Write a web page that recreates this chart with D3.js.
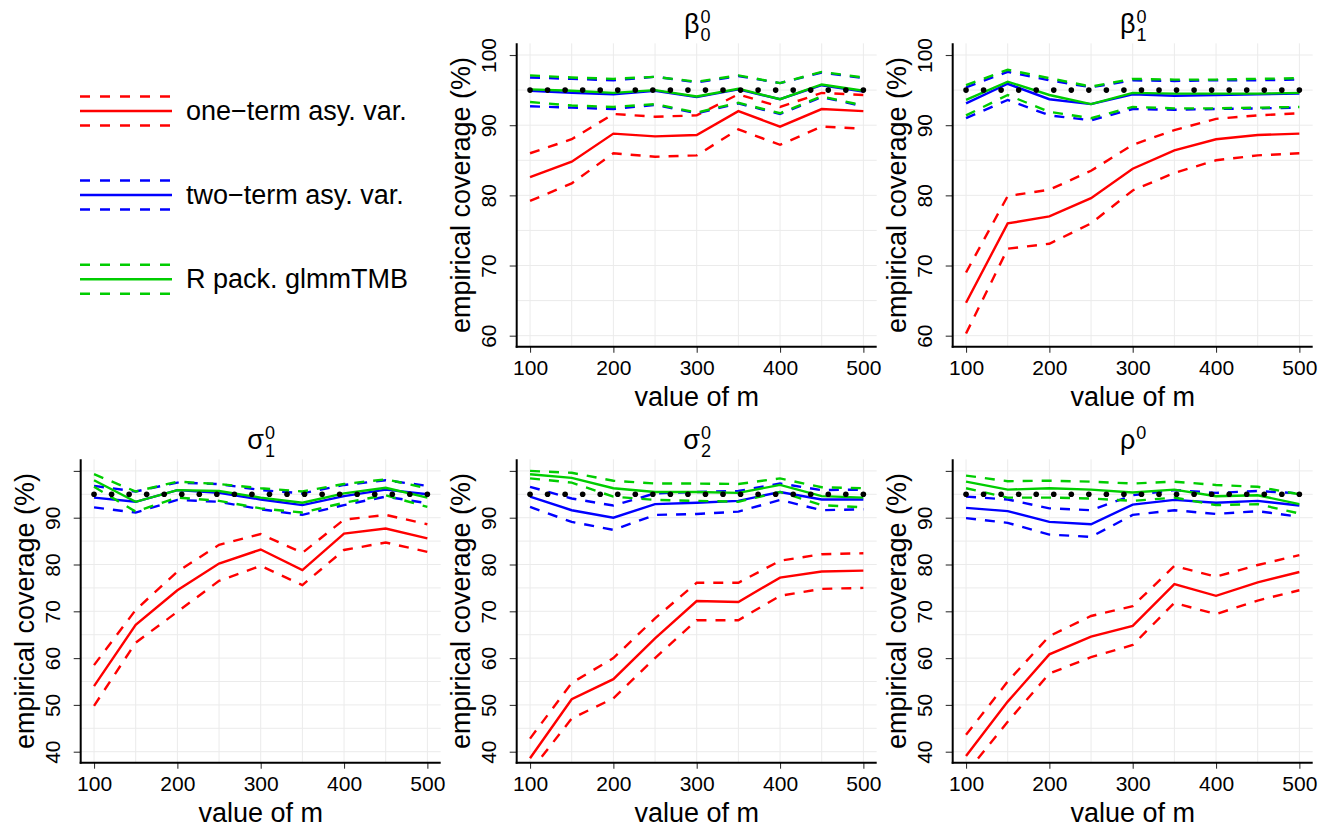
<!DOCTYPE html>
<html>
<head>
<meta charset="utf-8">
<title>empirical coverage</title>
<script src="https://d3js.org/d3.v7.min.js"></script>
<style>
  body { margin: 0; background: #fff; }
  text { font-family: "Liberation Sans", Arial, sans-serif; fill: #000; }
</style>
</head>
<body>
<svg width="1331" height="830"></svg>
<script>
// values of m on the x axis
const mValues = [100, 150, 200, 250, 300, 350, 400, 450, 500];
// nominal 95% reference (dotted line)
const refLevel = 95;
const refM = [100, 121.05, 142.11, 163.16, 184.21, 205.26, 226.32, 247.37, 268.42, 289.47,
              310.53, 331.58, 352.63, 373.68, 394.74, 415.79, 436.84, 457.89, 478.95, 500];

// beta_0^0
const b0_one    = [82.6, 84.8, 88.8, 88.4, 88.6, 92.0, 89.8, 92.3, 92.0];
const b0_one_up = [86.0, 88.0, 91.6, 91.2, 91.4, 94.4, 92.6, 94.6, 94.3];
const b0_one_lo = [79.2, 81.7, 86.0, 85.5, 85.7, 89.4, 87.2, 89.8, 89.5];
const b0_two    = [94.9, 94.6, 94.4, 94.9, 94.0, 95.1, 93.7, 95.7, 94.8];
const b0_two_up = [96.8, 96.6, 96.4, 96.9, 96.1, 97.0, 96.0, 97.5, 96.7];
const b0_two_lo = [92.7, 92.5, 92.3, 92.9, 91.7, 93.1, 91.6, 94.0, 92.7];
const b0_glm    = [95.1, 94.9, 94.6, 95.0, 94.1, 95.2, 93.7, 95.8, 94.9];
const b0_glm_up = [97.1, 96.8, 96.6, 96.9, 96.2, 97.1, 96.0, 97.6, 96.8];
const b0_glm_lo = [93.3, 92.8, 92.6, 93.0, 91.8, 93.2, 91.7, 94.1, 92.8];

// beta_1^0
const b1_one    = [64.7, 76.0, 77.0, 79.6, 83.8, 86.4, 88.0, 88.6, 88.8];
const b1_one_up = [69.0, 79.9, 80.8, 83.5, 87.2, 89.3, 90.9, 91.4, 91.7];
const b1_one_lo = [60.3, 72.4, 73.1, 76.0, 80.7, 83.2, 85.0, 85.7, 86.0];
const b1_two    = [93.1, 95.9, 93.7, 93.0, 94.4, 94.2, 94.3, 94.4, 94.5];
const b1_two_up = [95.4, 97.6, 96.4, 95.4, 96.4, 96.3, 96.4, 96.4, 96.5];
const b1_two_lo = [91.0, 93.6, 91.4, 90.7, 92.3, 92.2, 92.3, 92.4, 92.5];
const b1_glm    = [93.6, 96.2, 94.3, 93.0, 94.6, 94.5, 94.5, 94.5, 94.6];
const b1_glm_up = [95.7, 97.9, 96.7, 95.5, 96.6, 96.5, 96.5, 96.6, 96.7];
const b1_glm_lo = [91.4, 94.3, 91.9, 91.0, 92.6, 92.4, 92.4, 92.5, 92.6];

// sigma_1^0
const s1_one    = [54.0, 67.1, 74.5, 80.2, 83.2, 78.8, 86.6, 87.7, 85.6];
const s1_one_up = [58.5, 70.3, 78.5, 84.2, 86.5, 82.5, 89.6, 90.6, 88.6];
const s1_one_lo = [49.8, 63.3, 69.9, 76.5, 79.7, 75.6, 83.1, 84.7, 82.7];
const s1_two    = [94.3, 93.4, 95.9, 95.3, 93.9, 92.7, 94.6, 96.0, 95.0];
const s1_two_up = [96.8, 95.6, 97.5, 97.2, 95.9, 95.2, 97.0, 98.0, 96.8];
const s1_two_lo = [92.2, 91.1, 93.8, 93.4, 91.8, 90.6, 92.7, 94.5, 93.1];
const s1_glm    = [98.0, 93.4, 95.9, 95.7, 94.3, 93.2, 95.2, 96.4, 94.3];
const s1_glm_up = [99.3, 95.6, 97.7, 97.2, 96.3, 95.6, 97.2, 98.2, 96.3];
const s1_glm_lo = [96.6, 91.3, 94.3, 93.6, 92.0, 91.1, 93.2, 94.8, 92.3];

// sigma_2^0
const s2_one    = [38.6, 51.2, 55.5, 64.2, 72.2, 72.0, 77.2, 78.5, 78.7];
const s2_one_up = [42.8, 54.7, 60.0, 68.5, 76.1, 76.1, 80.8, 82.2, 82.4];
const s2_one_lo = [35.7, 47.1, 51.4, 60.0, 68.1, 68.1, 73.3, 74.8, 75.0];
const s2_two    = [94.5, 91.6, 90.0, 92.9, 93.2, 93.6, 95.5, 93.9, 93.9];
const s2_two_up = [96.6, 94.1, 92.6, 95.2, 95.5, 95.7, 97.3, 95.9, 96.0];
const s2_two_lo = [92.3, 89.1, 87.4, 90.6, 90.8, 91.3, 93.8, 91.6, 91.8];
const s2_glm    = [99.3, 98.5, 96.3, 95.5, 95.5, 95.3, 97.0, 94.6, 94.3];
const s2_glm_up = [100.0, 99.6, 97.9, 97.3, 97.3, 97.2, 98.4, 96.5, 96.3];
const s2_glm_lo = [98.4, 97.5, 94.5, 93.8, 93.6, 93.4, 95.5, 92.7, 92.2];

// rho^0
const r_one    = [39.1, 50.7, 60.8, 64.6, 66.9, 75.8, 73.3, 76.2, 78.4];
const r_one_up = [43.6, 55.0, 64.7, 69.0, 71.1, 79.7, 77.4, 79.9, 82.0];
const r_one_lo = [35.4, 46.4, 56.7, 60.2, 62.8, 71.8, 69.4, 72.3, 74.5];
const r_two    = [92.1, 91.4, 89.1, 88.6, 92.8, 93.8, 93.2, 93.6, 92.6];
const r_two_up = [94.5, 93.9, 92.0, 91.6, 94.8, 95.9, 95.3, 95.7, 95.2];
const r_two_lo = [89.9, 88.9, 86.4, 85.9, 90.6, 91.6, 90.8, 91.4, 90.2];
const r_glm    = [97.7, 96.0, 96.3, 96.0, 95.4, 96.0, 94.6, 94.8, 92.9];
const r_glm_up = [99.0, 97.8, 97.9, 97.7, 97.3, 97.7, 97.0, 96.6, 95.0];
const r_glm_lo = [96.3, 94.3, 94.3, 94.1, 93.6, 94.3, 92.7, 92.9, 90.9];

const methodNames = ["one\u2212term asy. var.", "two\u2212term asy. var.", "R pack. glmmTMB"];
const methodColors = ["#ff0000", "#0000ff", "#00cd00"];

const xTicks = [100, 200, 300, 400, 500];
const xGrid = [100, 150, 200, 250, 300, 350, 400, 450, 500];
const yTicksTop = [60, 70, 80, 90, 100];
const yLabelsTop = [60, 70, 80, 90, 100];
const yGridTop = [60, 65, 70, 75, 80, 85, 90, 95, 100];
const yTicksBottom = [40, 50, 60, 70, 80, 90, 100];
const yLabelsBottom = [40, 50, 60, 70, 80, 90];
const yGridBottom = [40, 45, 50, 55, 60, 65, 70, 75, 80, 85, 90, 95, 100];

// layout
const colX = [80.7, 516.7, 952.7];
const rowY = [43.3, 459.3];
const pw = 360, ph = 303.4;

const panels = [
  { base: "\u03b2", sub: "0", sup: "0", col: 1, row: 0, series: [[b0_one, b0_one_up, b0_one_lo], [b0_two, b0_two_up, b0_two_lo], [b0_glm, b0_glm_up, b0_glm_lo]] },
  { base: "\u03b2", sub: "1", sup: "0", col: 2, row: 0, series: [[b1_one, b1_one_up, b1_one_lo], [b1_two, b1_two_up, b1_two_lo], [b1_glm, b1_glm_up, b1_glm_lo]] },
  { base: "\u03c3", sub: "1", sup: "0", col: 0, row: 1, series: [[s1_one, s1_one_up, s1_one_lo], [s1_two, s1_two_up, s1_two_lo], [s1_glm, s1_glm_up, s1_glm_lo]] },
  { base: "\u03c3", sub: "2", sup: "0", col: 1, row: 1, series: [[s2_one, s2_one_up, s2_one_lo], [s2_two, s2_two_up, s2_two_lo], [s2_glm, s2_glm_up, s2_glm_lo]] },
  { base: "\u03c1", sub: "",  sup: "0", col: 2, row: 1, series: [[r_one, r_one_up, r_one_lo], [r_two, r_two_up, r_two_lo], [r_glm, r_glm_up, r_glm_lo]] }
];

const svg = d3.select("svg");
const defs = svg.append("defs");

const gridColor = "#ebebeb";
const dash = "10,9";
const lw = 2.4;

panels.forEach((p, i) => {
  const x0 = colX[p.col], y0 = rowY[p.row];
  const g = svg.append("g").attr("transform", `translate(${x0},${y0})`);

  const x = d3.scaleLinear().domain([84, 516]).range([0, pw]);
  const y = p.row === 0
    ? d3.scaleLinear().domain([58.43, 101.67]).range([ph, 0])
    : d3.scaleLinear().domain([37.65, 102.48]).range([ph, 0]);
  const yGrid = p.row === 0 ? yGridTop : yGridBottom;
  const yTicks = p.row === 0 ? yTicksTop : yTicksBottom;
  const yLabels = p.row === 0 ? yLabelsTop : yLabelsBottom;

  defs.append("clipPath").attr("id", "clip" + i)
    .append("rect").attr("width", pw).attr("height", ph);

  // grid
  g.selectAll(".gx").data(xGrid).join("line")
    .attr("x1", d => x(d)).attr("x2", d => x(d))
    .attr("y1", 0).attr("y2", ph)
    .attr("stroke", gridColor).attr("stroke-width", 1);
  g.selectAll(".gy").data(yGrid).join("line")
    .attr("x1", 0).attr("x2", pw)
    .attr("y1", d => y(d)).attr("y2", d => y(d))
    .attr("stroke", gridColor).attr("stroke-width", 1);

  const plot = g.append("g").attr("clip-path", `url(#clip${i})`);
  const line = d3.line().x((d, k) => x(mValues[k])).y(d => y(d));

  p.series.forEach((s, j) => {
    const col = methodColors[j];
    plot.append("path").datum(s[1]).attr("d", line)
      .attr("fill", "none").attr("stroke", col).attr("stroke-width", lw)
      .attr("stroke-dasharray", dash);
    plot.append("path").datum(s[2]).attr("d", line)
      .attr("fill", "none").attr("stroke", col).attr("stroke-width", lw)
      .attr("stroke-dasharray", dash);
    plot.append("path").datum(s[0]).attr("d", line)
      .attr("fill", "none").attr("stroke", col).attr("stroke-width", lw);
  });

  plot.selectAll(".ref").data(refM).join("circle")
    .attr("cx", d => x(d)).attr("cy", y(refLevel)).attr("r", 2.8).attr("fill", "#000");

  // axes
  const xAxis = g.append("g").attr("transform", `translate(0,${ph})`)
    .call(d3.axisBottom(x).tickValues(xTicks).tickSize(6).tickPadding(5).tickFormat(d3.format("d")));
  const yAxis = g.append("g")
    .call(d3.axisLeft(y).tickValues(yTicks).tickSize(7).tickPadding(3)
      .tickFormat(d => yLabels.includes(d) ? d : ""));
  [xAxis, yAxis].forEach(a => {
    a.select(".domain").remove();
    a.selectAll(".tick line").attr("stroke", "#333").attr("stroke-width", 1.1);
    a.selectAll("text").style("font-size", "21px").attr("fill", "#000");
  });
  xAxis.selectAll("text").attr("dy", null).attr("y", 28.5);
  yAxis.selectAll("text")
    .attr("x", null).attr("dy", null)
    .attr("text-anchor", "middle")
    .attr("transform", "translate(-21,0) rotate(-90)");

  g.append("line").attr("x1", 0).attr("x2", 0).attr("y1", 0).attr("y2", ph + 1)
    .attr("stroke", "#000").attr("stroke-width", 2);
  g.append("line").attr("x1", -1).attr("x2", pw).attr("y1", ph).attr("y2", ph)
    .attr("stroke", "#000").attr("stroke-width", 2);

  // axis titles
  g.append("text").attr("x", pw / 2).attr("y", ph + 59.5)
    .attr("text-anchor", "middle").style("font-size", "27px").text("value of m");
  g.append("text").attr("transform", `translate(-47,${ph / 2}) rotate(-90)`)
    .attr("text-anchor", "middle").style("font-size", "27px").text("empirical coverage (%)");

  // panel title with sub/superscript
  const ty = -10.3;
  const tg = g.append("g");
  const bt = tg.append("text").attr("y", ty).style("font-size", "27px").text(p.base);
  const sp = tg.append("text").attr("y", ty - 10).style("font-size", "18px").text(p.sup);
  const sb = tg.append("text").attr("y", ty + 7.5).style("font-size", "18px").text(p.sub);
  const wb = bt.node().getComputedTextLength();
  const ws = Math.max(sp.node().getComputedTextLength(), sb.node().getComputedTextLength());
  const left = pw / 2 - (wb + ws) / 2;
  bt.attr("x", left);
  sp.attr("x", left + wb + 1);
  sb.attr("x", left + wb + 1);
});

// legend
const legend = svg.append("g");
const legY = [111, 195, 279.3];
methodNames.forEach((name, j) => {
  const gy = legY[j];
  [-14.5, 14.5].forEach(off => {
    legend.append("line").attr("x1", 80).attr("x2", 172).attr("y1", gy + off).attr("y2", gy + off)
      .attr("stroke", methodColors[j]).attr("stroke-width", lw).attr("stroke-dasharray", "10,10");
  });
  legend.append("line").attr("x1", 80).attr("x2", 172).attr("y1", gy).attr("y2", gy)
    .attr("stroke", methodColors[j]).attr("stroke-width", lw);
  legend.append("text").attr("x", 186).attr("y", gy + 8.8).style("font-size", "27px").text(name);
});
</script>
</body>
</html>
